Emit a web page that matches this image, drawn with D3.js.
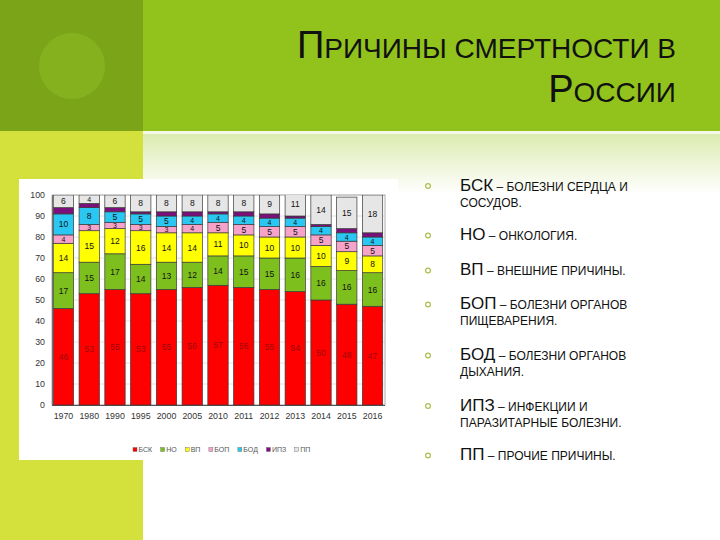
<!DOCTYPE html>
<html><head><meta charset="utf-8">
<script src="https://cdn.jsdelivr.net/npm/d3@7"></script>
<style>body{margin:0;padding:0;overflow:hidden;background:#fff}svg{display:block}</style>
</head><body>
<script>
const years = ["1970","1980","1990","1995","2000","2005","2010","2011","2012","2013","2014","2015","2016"];
const seriesNames = ["БСК","НО","ВП","БОП","БОД","ИПЗ","ПП"];
const bsk = [46,53,55,53,55,56,57,56,55,54,50,48,47];
const no  = [17,15,17,14,13,12,14,15,15,16,16,16,16];
const vp  = [14,15,12,16,14,14,11,10,10,10,10,9,8];
const bop = [4,3,3,3,3,4,5,5,5,5,5,5,5];
const bod = [10,8,5,5,5,4,4,4,4,4,4,4,4];
const ipz = [3,2,2,1,2,2,1,2,2,1,1,2,2];
const pp  = [6,4,6,8,8,8,8,8,9,11,14,15,18];
const yTicks = [0,10,20,30,40,50,60,70,80,90,100];
const titleLine1 = ["П","РИЧИНЫ СМЕРТНОСТИ В"];
const titleLine2 = ["Р","ОССИИ"];
const notes = [
  ["БСК"," – БОЛЕЗНИ СЕРДЦА И","СОСУДОВ."],
  ["НО"," – ОНКОЛОГИЯ.",null],
  ["ВП"," – ВНЕШНИЕ ПРИЧИНЫ.",null],
  ["БОП"," – БОЛЕЗНИ ОРГАНОВ","ПИЩЕВАРЕНИЯ."],
  ["БОД"," – БОЛЕЗНИ ОРГАНОВ","ДЫХАНИЯ."],
  ["ИПЗ"," – ИНФЕКЦИИ И","ПАРАЗИТАРНЫЕ БОЛЕЗНИ."],
  ["ПП"," – ПРОЧИЕ ПРИЧИНЫ.",null]
];

const seriesValues = [bsk,no,vp,bop,bod,ipz,pp];
const colors = ["#FF0000","#7DC01E","#FFFF00","#F7A3C9","#29C7F2","#7B0F7B","#E6E6E6"];
const labelColors = ["#9A0A0A","#111","#111","#111","#111",null,"#111"];

const W=720,H=540;
const svg = d3.select("body").append("svg").attr("width",W).attr("height",H);
const defs = svg.append("defs");
const grad = defs.append("linearGradient").attr("id","fade").attr("x1",0).attr("y1",0).attr("x2",0).attr("y2",1);
grad.append("stop").attr("offset","0%").attr("stop-color","#DCEBB0");
grad.append("stop").attr("offset","100%").attr("stop-color","#FFFFFF");

// slide background
svg.append("rect").attr("width",W).attr("height",H).attr("fill","#fff");
svg.append("rect").attr("x",143).attr("y",134).attr("width",W-143).attr("height",60).attr("fill","url(#fade)");
svg.append("rect").attr("x",0).attr("y",0).attr("width",W).attr("height",131).attr("fill","#92C31D");
svg.append("rect").attr("x",0).attr("y",0).attr("width",143).attr("height",131).attr("fill","#7BA419");
svg.append("ellipse").attr("cx",72).attr("cy",66).attr("rx",33).attr("ry",33).attr("fill","#86B11F");
svg.append("rect").attr("x",0).attr("y",131).attr("width",143).attr("height",H-131).attr("fill","#D4E03B");
svg.append("rect").attr("x",143).attr("y",131).attr("width",W-143).attr("height",3).attr("fill","#F4F8E8");

// title
const tfont = "'Liberation Sans Narrow','Arial Narrow','Liberation Sans',Arial,sans-serif";
function titleLine(parts, y){
  const t = svg.append("text").attr("x",676).attr("y",y).attr("text-anchor","end")
    .attr("font-family",tfont).attr("fill","#111");
  t.append("tspan").attr("font-size",38).text(parts[0]);
  t.append("tspan").attr("font-size",28).text(parts[1]);
}
titleLine(titleLine1,58);
titleLine(titleLine2,102);

// chart box
svg.append("rect").attr("x",19).attr("y",179).attr("width",379).attr("height",281).attr("fill","#fff");

const x = d3.scaleBand().domain(years).range([51.5,384.5]).paddingInner(0.21).paddingOuter(0.07);
const y = d3.scaleLinear().domain([0,100]).range([405,195]);
const cfont = "'Liberation Sans',Arial,sans-serif";

// gridlines
svg.append("g").selectAll("line").data(yTicks).join("line")
  .attr("x1",52).attr("x2",385).attr("y1",d=>y(d)).attr("y2",d=>y(d))
  .attr("stroke","#DADADA").attr("stroke-width",0.8);
svg.append("rect").attr("x",52).attr("y",195).attr("width",333).attr("height",210)
  .attr("fill","none").attr("stroke","#9A9A9A").attr("stroke-width",0.8);

const yAxis = svg.append("g").attr("transform","translate(52,0)")
  .call(d3.axisLeft(y).tickValues(yTicks).tickSize(0).tickPadding(7));
yAxis.select(".domain").attr("stroke","#777");
yAxis.selectAll("text").attr("font-family",cfont).attr("font-size",8.8).attr("fill","#333");

const xAxis = svg.append("g").attr("transform","translate(0,405)")
  .call(d3.axisBottom(x).tickSize(0).tickPadding(8));
xAxis.select(".domain").attr("stroke","#555");
xAxis.selectAll("text").attr("font-family",cfont).attr("font-size",8.8).attr("fill","#333");

// stacked data
const rows = years.map((yr,i)=>{const o={year:yr}; seriesNames.forEach((s,k)=>o[s]=seriesValues[k][i]); return o;});
const stacked = d3.stack().keys(seriesNames)(rows);
defs.append("clipPath").attr("id","plotclip").append("rect").attr("x",40).attr("y",195).attr("width",360).attr("height",215);

const bars = svg.append("g").attr("clip-path","url(#plotclip)");
stacked.forEach((layer,k)=>{
  bars.append("g").selectAll("rect").data(layer).join("rect")
    .attr("x",d=>x(d.data.year)).attr("width",x.bandwidth())
    .attr("y",d=>y(d[1])).attr("height",d=>y(d[0])-y(d[1]))
    .attr("fill",colors[k]).attr("stroke","#3a3a3a").attr("stroke-width",0.7);
});
stacked.forEach((layer,k)=>{
  if(!labelColors[k]) return;
  bars.append("g").selectAll("text").data(layer).join("text")
    .attr("x",d=>x(d.data.year)+x.bandwidth()/2)
    .attr("y",d=>{const v=d[1]-d[0]; return (y(d[0])+y(d[1]))/2+(v<=4?2.5:3);})
    .attr("text-anchor","middle").attr("font-family",cfont)
    .attr("font-size",d=>(d[1]-d[0])<=4?7:8.5)
    .attr("fill",labelColors[k]).text(d=>d.data[seriesNames[k]]);
});

// legend
const leg = svg.append("g");
let lx = 133;
seriesNames.forEach((s,k)=>{
  leg.append("rect").attr("x",lx).attr("y",447.5).attr("width",4).attr("height",4)
    .attr("fill",colors[k]).attr("stroke","#666").attr("stroke-width",0.4);
  const t = leg.append("text").attr("x",lx+5.5).attr("y",452).attr("font-family",cfont)
    .attr("font-size",7).attr("fill","#555").text(s);
  lx += 5.5 + t.node().getComputedTextLength() + 8.5;
});

// notes list
const noteY = [190.5,240,275,309,360,410.5,460];
const nfont = "'Liberation Sans',Arial,sans-serif";
notes.forEach((n,i)=>{
  const yy = noteY[i];
  svg.append("circle").attr("cx",428).attr("cy",yy-4.5).attr("r",2.4).attr("fill","none")
    .attr("stroke","#A9C04E").attr("stroke-width",1.2);
  const t = svg.append("text").attr("x",460).attr("y",yy).attr("font-family",nfont).attr("fill","#111");
  t.append("tspan").attr("font-size",17).text(n[0]);
  t.append("tspan").attr("font-size",12).text(n[1]);
  if(n[2]) svg.append("text").attr("x",460).attr("y",yy+16).attr("font-family",nfont)
    .attr("font-size",12).attr("fill","#111").text(n[2]);
});
</script>
</body></html>
